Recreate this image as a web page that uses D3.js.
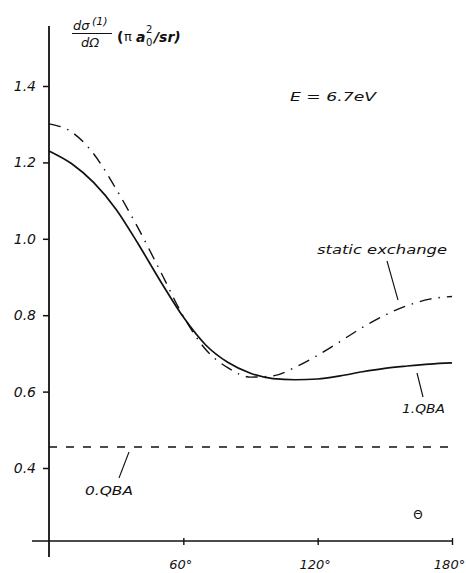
<!DOCTYPE html>
<html>
<head>
<meta charset="utf-8">
<script src="https://cdn.jsdelivr.net/npm/d3@7"></script>
<style>
  html, body { margin: 0; padding: 0; background: #fff; }
  svg { display: block; }
  text { font-family: "DejaVu Sans", sans-serif; fill: #111; }
</style>
</head>
<body>
<svg id="chart" width="466" height="573"></svg>
<script>
// Scattering angle grid (degrees)
const theta = [0, 10, 20, 30, 40, 50, 60, 70, 80, 90, 100, 110, 120, 130, 140, 150, 160, 170, 180];
// First-order QBA cross section
const qba1 = [1.230, 1.197, 1.147, 1.077, 0.985, 0.887, 0.795, 0.722, 0.676, 0.648, 0.634, 0.631, 0.633, 0.641, 0.652, 0.661, 0.667, 0.672, 0.675];
// Static exchange cross section
const staticExchange = [1.301, 1.280, 1.222, 1.130, 1.026, 0.912, 0.797, 0.710, 0.662, 0.638, 0.641, 0.664, 0.695, 0.731, 0.768, 0.800, 0.825, 0.842, 0.849];
// Zeroth-order QBA (isotropic)
const qba0 = [0.455, 0.455];
const qba0Theta = [0, 180];

const yTicks = [0.4, 0.6, 0.8, 1.0, 1.2, 1.4];
const yTickLabels = ["0.4", "0.6", "0.8", "1.0", "1.2", "1.4"];
const xTicks = [60, 120, 180];
const xTickLabels = ["60°", "120°", "180°"];

const svg = d3.select("#chart");
const x = d3.scaleLinear().domain([0, 180]).range([49, 452]);
const y = d3.scaleLinear().domain([0.4, 1.4]).range([468, 86]);
const ink = "#111";

// Axis lines
svg.append("line").attr("x1", 49).attr("x2", 49).attr("y1", 26).attr("y2", 557)
  .attr("stroke", ink).attr("stroke-width", 1.8);
svg.append("line").attr("x1", 32).attr("x2", 452).attr("y1", 541).attr("y2", 541)
  .attr("stroke", ink).attr("stroke-width", 1.6);

// Y axis ticks and labels
const yAxis = d3.axisLeft(y).tickValues(yTicks)
  .tickFormat((d, i) => yTickLabels[i]).tickSizeInner(6).tickSizeOuter(0).tickPadding(7);
const gy = svg.append("g").attr("transform", "translate(49,0)").call(yAxis);
gy.select(".domain").remove();
gy.selectAll(".tick line").attr("stroke", ink).attr("stroke-width", 1.5);
gy.selectAll(".tick text").attr("font-size", 14).attr("font-style", "italic")
  .attr("font-family", "DejaVu Sans, sans-serif").attr("fill", ink);

// X axis ticks and labels
const xAxis = d3.axisBottom(x).tickValues(xTicks)
  .tickFormat((d, i) => xTickLabels[i]).tickSizeInner(4).tickSizeOuter(0).tickPadding(15);
const gx = svg.append("g").attr("transform", "translate(0,541)").call(xAxis);
gx.select(".domain").remove();
gx.selectAll(".tick line").attr("stroke", ink).attr("stroke-width", 1.4).attr("y1", -3);
gx.selectAll(".tick text").attr("font-size", 13).attr("font-style", "italic")
  .attr("font-family", "DejaVu Sans, sans-serif").attr("fill", ink).attr("dx", -3);

const line = d3.line().curve(d3.curveMonotoneX)
  .x(d => x(d[0])).y(d => y(d[1]));

// 0.QBA dashed
svg.append("path").datum(d3.zip(qba0Theta, qba0))
  .attr("d", line).attr("fill", "none").attr("stroke", ink)
  .attr("stroke-width", 1.3).attr("stroke-dasharray", "8,9");

// Static exchange dash-dot
svg.append("path").datum(d3.zip(theta, staticExchange))
  .attr("d", line).attr("fill", "none").attr("stroke", ink)
  .attr("stroke-width", 1.4).attr("stroke-dasharray", "12,7,1.5,7");

// 1.QBA solid
svg.append("path").datum(d3.zip(theta, qba1))
  .attr("d", line).attr("fill", "none").attr("stroke", ink)
  .attr("stroke-width", 1.7);

// Curve labels with leader lines
function leader(x1, y1, x2, y2) {
  svg.append("line").attr("x1", x1).attr("y1", y1).attr("x2", x2).attr("y2", y2)
    .attr("stroke", ink).attr("stroke-width", 1.1);
}
function label(tx, ty, width, str) {
  svg.append("text").attr("x", tx).attr("y", ty).attr("font-size", 13)
    .attr("font-style", "italic").attr("textLength", width)
    .attr("lengthAdjust", "spacingAndGlyphs").text(str);
}
leader(387, 261, 398, 300);
label(317, 254, 130, "static exchange");

leader(417, 373, 423, 397);
label(402, 413, 43, "1.QBA");

leader(129, 452, 119, 478);
label(85, 495, 48, "0.QBA");

// Energy annotation
label(290, 101, 86, "E = 6.7eV");

// Angle symbol
svg.append("text").attr("x", 418).attr("y", 519).attr("font-size", 12)
  .attr("text-anchor", "middle").text("Θ");

// Y axis title: dσ^(1)/dΩ (π a0^2 / sr)
const t = svg.append("g");
t.append("text").attr("x", 73).attr("y", 30).attr("font-size", 13).attr("font-style", "italic").text("dσ");
t.append("text").attr("x", 92).attr("y", 25).attr("font-size", 11).attr("font-style", "italic").text("(1)");
t.append("line").attr("x1", 72).attr("x2", 112).attr("y1", 33.5).attr("y2", 33.5)
  .attr("stroke", ink).attr("stroke-width", 1.1);
t.append("text").attr("x", 81).attr("y", 47).attr("font-size", 13).attr("font-style", "italic").text("dΩ");
t.append("text").attr("x", 117).attr("y", 42).attr("font-size", 14).attr("font-weight", "bold").text("(");
t.append("text").attr("x", 124).attr("y", 41).attr("font-size", 13).text("π");
t.append("text").attr("x", 136).attr("y", 42).attr("font-size", 14).attr("font-style", "italic").attr("font-weight", "bold").text("a");
t.append("text").attr("x", 146).attr("y", 33).attr("font-size", 10).text("2");
t.append("text").attr("x", 146).attr("y", 46).attr("font-size", 10).text("0");
t.append("text").attr("x", 154).attr("y", 42).attr("font-size", 14).attr("font-style", "italic").attr("font-weight", "bold").text("/sr)");
</script>
</body>
</html>
